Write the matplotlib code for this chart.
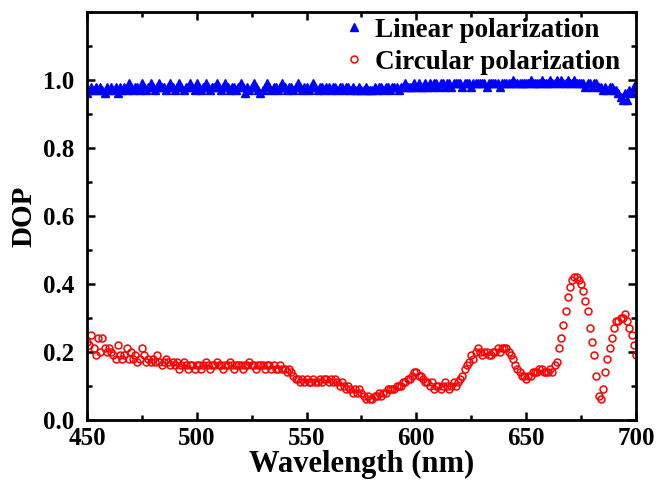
import numpy as np
import matplotlib
matplotlib.use("Agg")
import matplotlib.pyplot as plt
from matplotlib.ticker import MultipleLocator

plt.rcParams['font.family'] = ['Liberation Serif', 'DejaVu Serif']
plt.rcParams['font.weight'] = 'bold'

wavelength = list(range(450, 701))

linear_dop = [
    0.96, 0.97, 0.98, 0.97, 0.98, 0.97, 0.98, 0.97, 0.96, 0.98,
    0.97, 0.98, 0.97, 0.98, 0.96, 0.98, 0.97, 0.98, 0.97, 0.99,
    0.98, 0.97, 0.98, 0.98, 0.97, 0.99, 0.98, 0.97, 0.98, 0.99,
    0.98, 0.97, 0.98, 0.99, 0.98, 0.98, 0.97, 0.98, 0.99, 0.98,
    0.97, 0.98, 0.99, 0.98, 0.97, 0.98, 0.98, 0.99, 0.98, 0.97,
    0.99, 0.98, 0.97, 0.98, 0.99, 0.98, 0.97, 0.98, 0.98, 0.99,
    0.98, 0.97, 0.98, 0.99, 0.98, 0.97, 0.98, 0.98, 0.97, 0.98,
    0.99, 0.98, 0.96, 0.98, 0.97, 0.98, 0.99, 0.98, 0.97, 0.96,
    0.97, 0.98, 0.99, 0.98, 0.97, 0.98, 0.98, 0.97, 0.98, 0.99,
    0.98, 0.97, 0.98, 0.98, 0.97, 0.98, 0.99, 0.98, 0.97, 0.98,
    0.98, 0.97, 0.98, 0.99, 0.98, 0.97, 0.98, 0.98, 0.97, 0.98,
    0.98, 0.97, 0.98, 0.98, 0.97, 0.98, 0.98, 0.97, 0.98, 0.98,
    0.97, 0.98, 0.97, 0.97, 0.98, 0.97, 0.97, 0.98, 0.97, 0.97,
    0.97, 0.98, 0.97, 0.98, 0.98, 0.97, 0.98, 0.98, 0.97, 0.98,
    0.98, 0.98, 0.97, 0.98, 0.98, 0.99, 0.98, 0.98, 0.98, 0.99,
    0.98, 0.99, 0.98, 0.98, 0.99, 0.98, 0.99, 0.98, 0.99, 0.99,
    0.98, 0.99, 0.99, 0.98, 0.99, 0.99, 0.98, 0.99, 0.99, 0.99,
    0.99, 0.98, 0.99, 0.99, 0.99, 0.98, 0.99, 0.99, 0.99, 0.99,
    0.99, 0.99, 0.98, 0.99, 0.99, 0.99, 0.99, 0.99, 0.98, 0.99,
    0.99, 0.99, 0.99, 0.99, 1.00, 0.99, 0.99, 0.99, 0.99, 0.99,
    0.99, 0.99, 1.00, 0.99, 0.99, 0.99, 0.99, 1.00, 0.99, 0.99,
    0.99, 1.00, 0.99, 0.99, 1.00, 0.99, 1.00, 0.99, 0.99, 1.00,
    0.99, 0.99, 1.00, 0.99, 0.99, 0.99, 0.99, 0.98, 0.99, 0.99,
    0.98, 0.99, 0.99, 0.98, 0.98, 0.97, 0.98, 0.97, 0.98, 0.98,
    0.97, 0.97, 0.96, 0.95, 0.94, 0.96, 0.94, 0.97, 0.96, 0.98,
    0.99,
]

circular_dop = [
    0.23, 0.22, 0.25, 0.21, 0.19, 0.24, 0.20, 0.24, 0.21, 0.20,
    0.21, 0.20, 0.19, 0.18, 0.22, 0.19, 0.18, 0.19, 0.21, 0.18,
    0.20, 0.18, 0.19, 0.17, 0.18, 0.21, 0.19, 0.17, 0.18, 0.17,
    0.18, 0.17, 0.19, 0.17, 0.16, 0.17, 0.18, 0.17, 0.16, 0.17,
    0.16, 0.17, 0.15, 0.16, 0.17, 0.16, 0.15, 0.16, 0.16, 0.15,
    0.16, 0.16, 0.15, 0.16, 0.17, 0.16, 0.15, 0.16, 0.16, 0.17,
    0.16, 0.16, 0.15, 0.16, 0.16, 0.17, 0.16, 0.15, 0.16, 0.16,
    0.16, 0.15, 0.16, 0.16, 0.17, 0.16, 0.16, 0.15, 0.16, 0.16,
    0.16, 0.15, 0.16, 0.16, 0.15, 0.16, 0.15, 0.15, 0.16, 0.15,
    0.15, 0.14, 0.15, 0.14, 0.13, 0.12, 0.12, 0.11, 0.12, 0.11,
    0.12, 0.11, 0.11, 0.12, 0.11, 0.11, 0.12, 0.11, 0.12, 0.12,
    0.11, 0.12, 0.11, 0.12, 0.11, 0.10, 0.11, 0.10, 0.09, 0.10,
    0.09, 0.08, 0.09, 0.08, 0.09, 0.08, 0.07, 0.06, 0.07, 0.06,
    0.06, 0.07, 0.07, 0.08, 0.07, 0.08, 0.08, 0.09, 0.09, 0.09,
    0.09, 0.10, 0.10, 0.10, 0.11, 0.11, 0.12, 0.12, 0.13, 0.14,
    0.14, 0.13, 0.13, 0.12, 0.11, 0.11, 0.10, 0.11, 0.09, 0.10,
    0.10, 0.09, 0.10, 0.11, 0.10, 0.09, 0.10, 0.11, 0.10, 0.11,
    0.12, 0.13, 0.15, 0.16, 0.17, 0.19, 0.18, 0.20, 0.21, 0.20,
    0.19, 0.20, 0.20, 0.19, 0.19, 0.20, 0.20, 0.21, 0.20, 0.21,
    0.21, 0.21, 0.20, 0.19, 0.18, 0.16, 0.15, 0.14, 0.13, 0.13,
    0.12, 0.13, 0.13, 0.14, 0.14, 0.14, 0.15, 0.15, 0.14, 0.14,
    0.14, 0.15, 0.14, 0.16, 0.17, 0.21, 0.24, 0.28, 0.32, 0.36,
    0.39, 0.41, 0.42, 0.42, 0.41, 0.40, 0.38, 0.35, 0.32, 0.27,
    0.23, 0.19, 0.13, 0.07, 0.06, 0.09, 0.14, 0.18, 0.21, 0.24,
    0.27, 0.29, 0.29, 0.30, 0.30, 0.31, 0.29, 0.27, 0.25, 0.22,
    0.19,
]

fig = plt.figure(figsize=(6.59, 4.94), dpi=100)
ax = fig.add_axes([0.132, 0.150, 0.833, 0.826])

ax.plot(wavelength, linear_dop, linestyle='none', marker='^', markersize=5.5,
        color='#0000ff', markeredgecolor='#0000ff', label='Linear polarization')
ax.plot(wavelength, circular_dop, linestyle='none', marker='o', markersize=5,
        markerfacecolor='none', markeredgecolor='#ff0000', markeredgewidth=1.1,
        label='Circular polarization')

ax.set_xlim(450, 700)
ax.set_ylim(0, 1.2)
ax.set_xticks([450, 500, 550, 600, 650, 700])
ax.set_yticks([0.0, 0.2, 0.4, 0.6, 0.8, 1.0])
ax.set_yticklabels(['0.0', '0.2', '0.4', '0.6', '0.8', '1.0'])
ax.xaxis.set_minor_locator(MultipleLocator(25))
ax.yaxis.set_minor_locator(MultipleLocator(0.1))
ax.tick_params(which='both', direction='in', top=True, right=True, width=1.8)
ax.tick_params(which='major', length=6, labelsize=18)
ax.tick_params(axis='x', which='major', pad=5)
ax.tick_params(axis='y', which='major', pad=9)
ax.tick_params(which='minor', length=3.5)
for lab in ax.get_xticklabels() + ax.get_yticklabels():
    lab.set_fontweight('bold')
for s in ax.spines.values():
    s.set_linewidth(2)

ax.set_xlabel('Wavelength (nm)', fontsize=22, fontweight='bold', labelpad=0)
ax.set_ylabel('DOP', fontsize=21, fontweight='bold', labelpad=4)

ax.legend(loc='upper right', frameon=False, prop={'weight': 'bold', 'size': 19.5},
          handletextpad=0.3, borderaxespad=0.0, labelspacing=0.25,
          handlelength=0.9, bbox_to_anchor=(0.99, 1.012))

fig.savefig('out.png', dpi=100)
